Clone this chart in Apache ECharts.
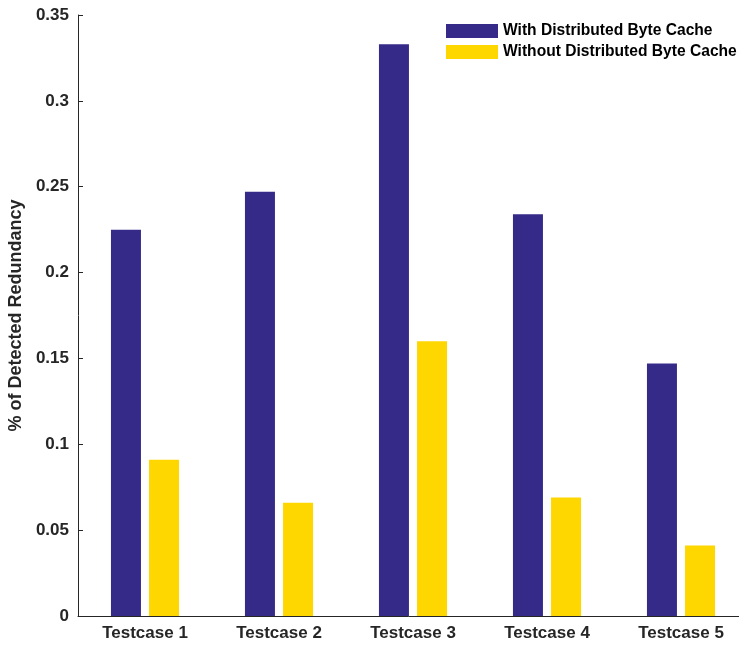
<!DOCTYPE html>
<html>
<head>
<meta charset="utf-8">
<script src="https://cdn.jsdelivr.net/npm/echarts@6/dist/echarts.min.js"></script>
<style>html,body{margin:0;padding:0;background:#fff;}#c{width:739px;height:646px;}</style>
</head>
<body>
<div id="c"></div>
<script>
const categories = ['Testcase 1', 'Testcase 2', 'Testcase 3', 'Testcase 4', 'Testcase 5'];
const withCache = [0.225, 0.247, 0.333, 0.234, 0.147];
const withoutCache = [0.091, 0.066, 0.160, 0.069, 0.041];
const seriesNames = ['With Distributed Byte Cache', 'Without Distributed Byte Cache'];
const yTicks = [0, 0.05, 0.1, 0.15, 0.2, 0.25, 0.3, 0.35];

const chart = echarts.init(document.getElementById('c'));
const font = 'Liberation Sans, Arial, Helvetica, sans-serif';
chart.setOption({
  animation: false,
  textStyle: { fontFamily: font },
  grid: { left: 78, top: 15, width: 670, height: 601, containLabel: false, outerBoundsMode: 'none' },
  legend: {
    orient: 'vertical', left: 441, top: 18,
    icon: 'rect',
    itemWidth: 52, itemHeight: 14, itemGap: 5, itemTextGap: 5,
    textStyle: { fontSize: 15.6, lineHeight: 14, fontWeight: 'bold', color: '#000', fontFamily: font },
    data: seriesNames
  },
  xAxis: {
    type: 'category', data: categories,
    axisLine: { lineStyle: { color: '#262626', width: 1 } },
    axisTick: { inside: true, alignWithLabel: true, length: 6, lineStyle: { color: '#262626' } },
    axisLabel: { fontSize: 17, fontWeight: 'bold', color: '#262626', margin: 9, fontFamily: font }
  },
  yAxis: {
    type: 'value', min: 0, max: 0.35, interval: 0.05,
    name: '% of Detected Redundancy', nameLocation: 'middle', nameGap: 50,
    nameTextStyle: { fontSize: 18, fontWeight: 'bold', color: '#262626', fontFamily: font },
    axisLine: { show: true, lineStyle: { color: '#262626', width: 1 } },
    axisTick: { show: true, inside: true, length: 5, lineStyle: { color: '#262626' } },
    splitLine: { show: false },
    axisLabel: {
      fontSize: 17, fontWeight: 'bold', color: '#262626', margin: 9, fontFamily: font,
      customValues: yTicks,
      formatter: v => String(parseFloat(v.toFixed(2)))
    }
  },
  series: [
    { name: seriesNames[0], type: 'bar', data: withCache, barWidth: 30, barGap: '27%',
      itemStyle: { color: '#352a87' } },
    { name: seriesNames[1], type: 'bar', data: withoutCache, barWidth: 30, barGap: '27%',
      itemStyle: { color: '#fed600' } }
  ]
});
</script>
</body>
</html>
